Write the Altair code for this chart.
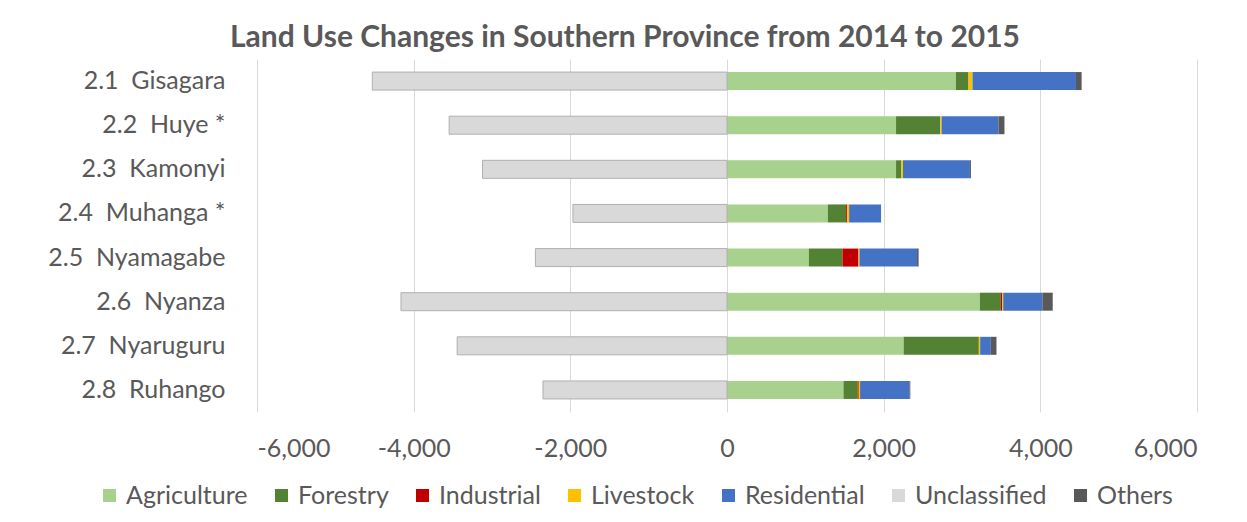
import altair as alt
import pandas as pd

NB = "\u00a0"
districts = ["2.1" + NB + " Gisagara", "2.2" + NB + " Huye *", "2.3" + NB + " Kamonyi",
             "2.4" + NB + " Muhanga *", "2.5" + NB + " Nyamagabe", "2.6" + NB + " Nyanza",
             "2.7" + NB + " Nyaruguru", "2.8" + NB + " Ruhango"]

categories = ["Agriculture", "Forestry", "Industrial", "Livestock", "Residential", "Unclassified", "Others"]
colors = ["#a9d18e", "#548235", "#c00000", "#ffc000", "#4472c4", "#d9d9d9", "#595959"]

agriculture = [2922, 2158, 2158, 1287, 1045, 3228, 2255, 1487]
forestry = [161, 564, 68, 234, 429, 268, 960, 182]
industrial = [0, 0, 0, 13, 204, 17, 0, 13]
livestock = [51, 17, 21, 25, 13, 13, 17, 17]
residential = [1321, 726, 854, 408, 735, 500, 136, 629]
unclassified = [-4528, -3547, -3121, -1967, -2446, -4162, -3445, -2349]
others = [72, 77, 13, 0, 20, 132, 72, 12]

series = {
    "Agriculture": agriculture,
    "Forestry": forestry,
    "Industrial": industrial,
    "Livestock": livestock,
    "Residential": residential,
    "Unclassified": unclassified,
    "Others": others,
}

rows = []
for ci, cat in enumerate(categories):
    for di, d in enumerate(districts):
        rows.append({"district": d, "category": cat, "value": series[cat][di], "ord": ci})
df = pd.DataFrame(rows)

FONT = "Lato"
TXT = "#595959"

chart = alt.Chart(df).mark_bar(size=18).encode(
    y=alt.Y("district:N", sort=districts, title=None,
            scale=alt.Scale(paddingInner=0, paddingOuter=0),
            axis=alt.Axis(ticks=False, domain=False, labelPadding=32, labelFontSize=25,
                          labelFont=FONT, labelColor=TXT, grid=False)),
    x=alt.X("value:Q", stack="zero", title=None,
            scale=alt.Scale(domain=[-6000, 6000], nice=False),
            axis=alt.Axis(values=[-6000, -4000, -2000, 0, 2000, 4000, 6000],
                          labelExpr="replace(format(datum.value, ','), '\u2212', '-')",
                          ticks=False, domain=False, labelPadding=24, labelFontSize=25,
                          labelFont=FONT, labelColor=TXT, grid=True, gridColor="#d9d9d9",
                          gridWidth=1)),
    color=alt.Color("category:N", scale=alt.Scale(domain=categories, range=colors),
                    legend=alt.Legend(title=None, orient="none", direction="horizontal",
                                      columns=7, legendX=-160, legendY=424,
                                      symbolType="square", symbolSize=169,
                                      symbolStrokeWidth=0, labelOffset=4,
                                      columnPadding=21, labelFontSize=25,
                                      labelFont=FONT, labelColor=TXT, padding=0,
                                      gridAlign="none")),
    order=alt.Order("ord:Q"),
    stroke=alt.condition(alt.datum.category == "Unclassified", alt.value("#b0b0b0"), alt.value("#ffffff")),
    strokeWidth=alt.condition(alt.datum.category == "Unclassified", alt.value(1), alt.value(0)),
).properties(
    width=940,
    height=353,
    title=alt.TitleParams("Land Use Changes in Southern Province from 2014 to 2015",
                          font=FONT, fontSize=30, fontWeight="bold", color=TXT,
                          anchor="middle", frame="group", dx=-102, offset=6),
    autosize=alt.AutoSizeParams(type="none"),
    padding={"left": 249, "top": 51, "right": 42, "bottom": 102},
).configure_view(stroke=None)

chart.save("out.html", embed_options={"renderer": "svg", "actions": False})
